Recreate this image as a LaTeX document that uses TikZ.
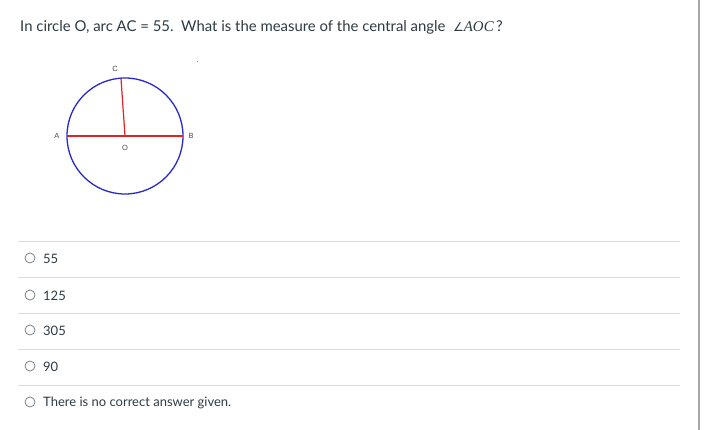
\documentclass[tikz,border=0pt]{standalone}
\usepackage{fontspec}
\setmainfont{Lato}
\newfontfamily\labfont{Liberation Sans}
\newfontfamily\mathfont{Liberation Serif}
\newfontfamily\symfont{DejaVu Sans}
\definecolor{txt}{HTML}{2D3B45}
\definecolor{sep}{HTML}{D9DCDF}
\definecolor{cblue}{HTML}{2A2ACC}
\definecolor{cred}{HTML}{E02424}
\definecolor{radio}{HTML}{7A8288}
\begin{document}
\begin{tikzpicture}[x=1pt,y=-1pt,
  qtext/.style={anchor=base west,inner sep=0,text=txt,font=\fontsize{14.9}{17}\selectfont},
  atext/.style={anchor=west,inner sep=0,text=txt,font=\fontsize{13}{15}\selectfont},
  ptlab/.style={inner sep=0,text=black!70,font=\labfont\fontsize{7.5}{8}\selectfont},
  radiobtn/.style={circle,draw=radio,line width=0.8pt,minimum size=10pt,inner sep=0},
  sepline/.style={draw=sep,line width=1pt}]
\useasboundingbox (0,0) rectangle (707,430);
\fill[white] (0,0) rectangle (707,430);
% question
\node[qtext] (q) at (20,32) {In circle O, arc AC = 55.\ \ What is the measure of the central angle\ \ {\symfont\fontsize{12}{14}\selectfont ∠}{\mathfont\itshape AOC}\,?};
% figure
\coordinate (O) at (125,136);
\coordinate (A) at (67,136);
\coordinate (B) at (183,136);
\coordinate (C) at (121,78.5);
\draw[cblue,line width=1.3pt] (O) circle (58);
\draw[cred,line width=1.2pt] (A) -- (B);
\draw[cred,line width=1.2pt] (O) -- (C);
\node[ptlab] (la) at (57,136) {A};
\node[ptlab] (lb) at (191,136) {B};
\node[ptlab] (lc) at (115,69) {C};
\node[ptlab] (lo) at (125,148) {O};
\draw[black!40,line width=0.6pt] (196.5,61) -- (198,61);
% separators
\foreach \y in {242,278,314,350,385} \draw[sepline] (18,\y) -- (680,\y);
% answers
\node[radiobtn] (r1) at (30,258) {};
\node[atext] (a1) at (43,258.5) {55};
\node[radiobtn] (r2) at (30,295) {};
\node[atext] (a2) at (43,295.5) {125};
\node[radiobtn] (r3) at (30,330) {};
\node[atext] (a3) at (43,330.5) {305};
\node[radiobtn] (r4) at (30,366) {};
\node[atext] (a4) at (43,366.5) {90};
\node[radiobtn] (r5) at (30,402) {};
\node[atext] (a5) at (43,402.5) {There is no correct answer given.};
% right border
\draw[black!35,line width=1.2pt] (699,0) -- (699,430);
\end{tikzpicture}
\end{document}
